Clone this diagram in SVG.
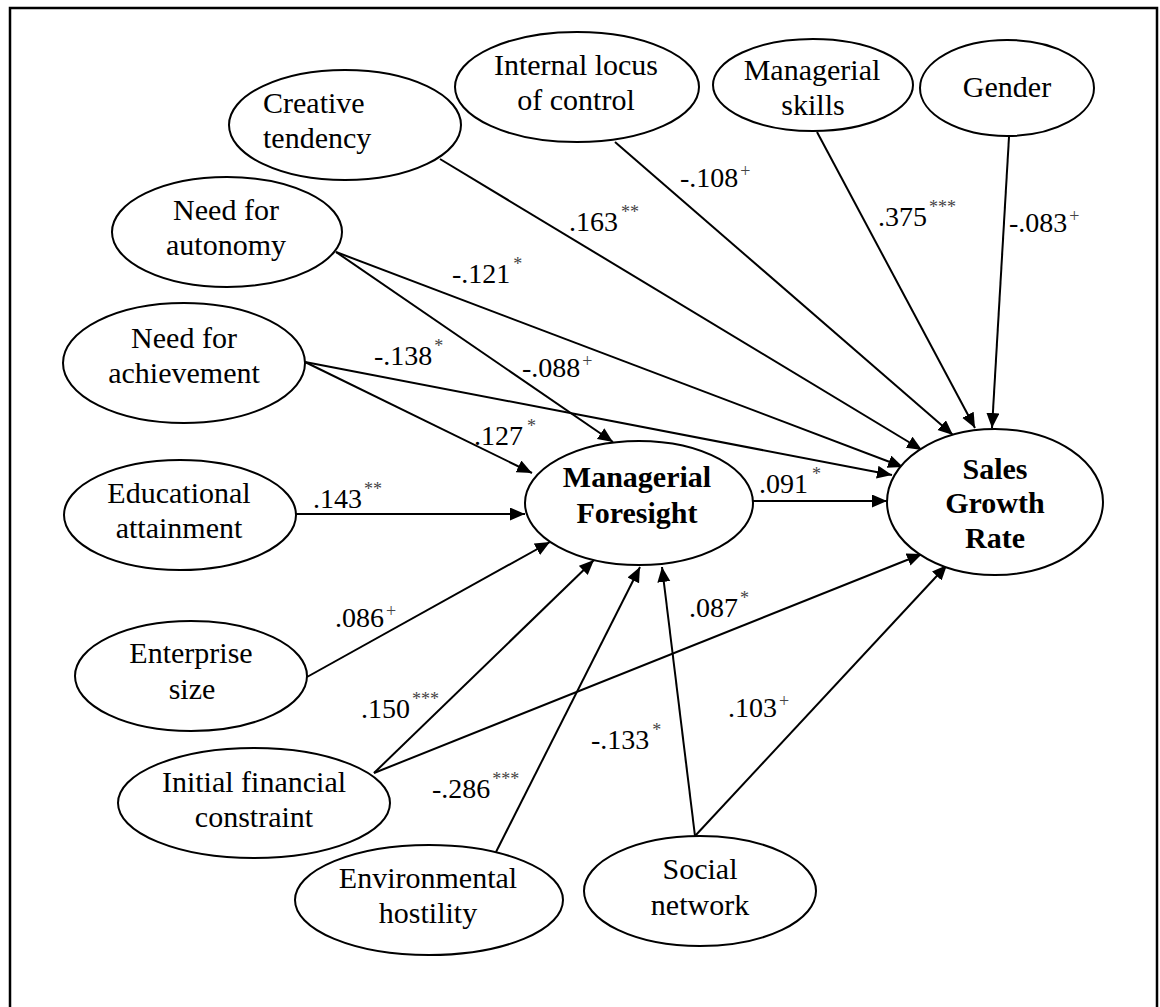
<svg xmlns="http://www.w3.org/2000/svg" width="1160" height="1007" viewBox="0 0 1160 1007">
<style>
.node ellipse{fill:#fff;stroke:#000;stroke-width:2}
.node text{font-family:"Liberation Serif","Times New Roman",serif;font-size:30px;fill:#000;text-anchor:middle}
.node text.b{font-weight:bold}
.edges line{stroke:#000;stroke-width:2;marker-end:url(#ah)}
.lbl{font-family:"Liberation Serif","Times New Roman",serif;font-size:28px;fill:#000}
.sup{font-size:18px;fill:#444}
</style>
<defs>
<marker id="ah" markerUnits="userSpaceOnUse" markerWidth="16" markerHeight="14" refX="15" refY="6.5" orient="auto">
<path d="M0,0 L15,6.5 L0,13 z" fill="#000"/>
</marker>
</defs>
<rect width="1160" height="1007" fill="#fff"/>
<path d="M10,1010 L10,8 L1157,8 L1157,1010" fill="none" stroke="#000" stroke-width="2.5"/>
<g class="edges">
<line x1="440" y1="159" x2="922" y2="450"/>
<line x1="615" y1="142" x2="953" y2="435"/>
<line x1="817" y1="132" x2="975" y2="428"/>
<line x1="1009" y1="137" x2="992" y2="428"/>
<line x1="336" y1="252" x2="903" y2="467"/>
<line x1="336" y1="252" x2="613" y2="442"/>
<line x1="305" y1="362" x2="892" y2="475"/>
<line x1="305" y1="362" x2="532" y2="473"/>
<line x1="296" y1="514" x2="525" y2="514"/>
<line x1="307" y1="677" x2="550" y2="542"/>
<line x1="374" y1="773" x2="594" y2="560"/>
<line x1="374" y1="773" x2="922" y2="554"/>
<line x1="496" y1="852" x2="640" y2="567"/>
<line x1="695" y1="836" x2="662" y2="567"/>
<line x1="695" y1="836" x2="947" y2="565"/>
<line x1="752" y1="501" x2="887" y2="501"/>
</g>
<g id="creative" class="node"><ellipse cx="345" cy="125" rx="116" ry="55"/><text x="263" y="113" style="text-anchor:start">Creative</text><text x="263" y="148" style="text-anchor:start">tendency</text></g>
<g id="locus" class="node"><ellipse cx="577" cy="87" rx="122" ry="55"/><text x="576" y="75">Internal locus</text><text x="576" y="110">of control</text></g>
<g id="skills" class="node"><ellipse cx="813" cy="85" rx="100" ry="46"/><text x="812" y="80">Managerial</text><text x="813" y="115">skills</text></g>
<g id="gender" class="node"><ellipse cx="1007" cy="88" rx="87" ry="48"/><text x="1007" y="97">Gender</text></g>
<g id="autonomy" class="node"><ellipse cx="227" cy="232" rx="115" ry="55"/><text x="226" y="220">Need for</text><text x="226" y="255">autonomy</text></g>
<g id="achievement" class="node"><ellipse cx="184" cy="363" rx="121" ry="60"/><text x="184" y="348">Need for</text><text x="184" y="383">achievement</text></g>
<g id="education" class="node"><ellipse cx="180" cy="515" rx="116" ry="55"/><text x="179" y="503">Educational</text><text x="179" y="538">attainment</text></g>
<g id="size" class="node"><ellipse cx="191" cy="676" rx="116" ry="55"/><text x="191" y="663">Enterprise</text><text x="192" y="699">size</text></g>
<g id="financial" class="node"><ellipse cx="254" cy="803" rx="136" ry="55"/><text x="254" y="792">Initial financial</text><text x="254" y="827">constraint</text></g>
<g id="hostility" class="node"><ellipse cx="429" cy="900" rx="134" ry="55"/><text x="428" y="888">Environmental</text><text x="428" y="923">hostility</text></g>
<g id="social" class="node"><ellipse cx="700" cy="891" rx="116" ry="55"/><text x="700" y="879">Social</text><text x="700" y="915">network</text></g>
<g id="foresight" class="node"><ellipse cx="639" cy="503" rx="114" ry="62"/><text class="b" x="637" y="487">Managerial</text><text class="b" x="637" y="523">Foresight</text></g>
<g id="sgr" class="node"><ellipse cx="995" cy="502" rx="108" ry="73"/><text class="b" x="995" y="479">Sales</text><text class="b" x="995" y="513">Growth</text><text class="b" x="995" y="548">Rate</text></g>
<g id="labels">
<text class="lbl" x="569" y="231">.163<tspan class="sup" dx="3" dy="-13">**</tspan></text>
<text class="lbl" x="680" y="187">-.108<tspan class="sup" dx="2" dy="-10">+</tspan></text>
<text class="lbl" x="878" y="226">.375<tspan class="sup" dx="2" dy="-13">***</tspan></text>
<text class="lbl" x="1009" y="232">-.083<tspan class="sup" dx="2" dy="-10">+</tspan></text>
<text class="lbl" x="452" y="283">-.121<tspan class="sup" dx="3" dy="-13">*</tspan></text>
<text class="lbl" x="374" y="365">-.138<tspan class="sup" dx="2" dy="-13">*</tspan></text>
<text class="lbl" x="522" y="377">-.088<tspan class="sup" dx="2" dy="-10">+</tspan></text>
<text class="lbl" x="474" y="445">.127<tspan class="sup" dx="4" dy="-13">*</tspan></text>
<text class="lbl" x="313" y="508">.143<tspan class="sup" dx="2" dy="-13">**</tspan></text>
<text class="lbl" x="335" y="627">.086<tspan class="sup" dx="2" dy="-10">+</tspan></text>
<text class="lbl" x="759" y="493">.091<tspan class="sup" dx="4" dy="-13">*</tspan></text>
<text class="lbl" x="689" y="617">.087<tspan class="sup" dx="2" dy="-13">*</tspan></text>
<text class="lbl" x="361" y="718">.150<tspan class="sup" dx="2" dy="-13">***</tspan></text>
<text class="lbl" x="432" y="798">-.286<tspan class="sup" dx="2" dy="-13">***</tspan></text>
<text class="lbl" x="591" y="749">-.133<tspan class="sup" dx="3" dy="-13">*</tspan></text>
<text class="lbl" x="728" y="717">.103<tspan class="sup" dx="2" dy="-10">+</tspan></text>
</g>
</svg>
